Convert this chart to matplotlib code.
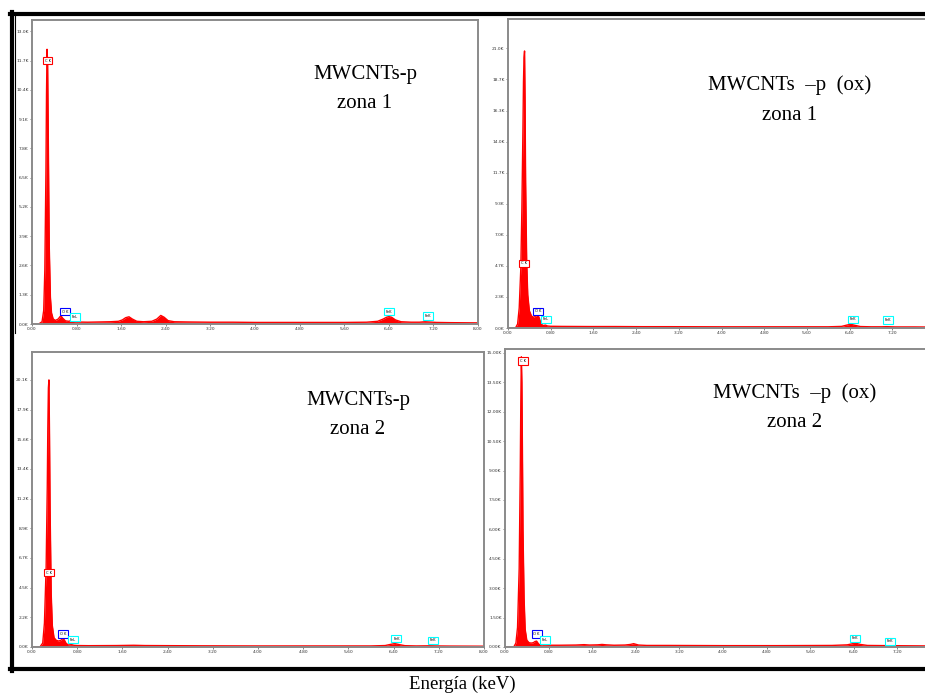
import matplotlib
matplotlib.use("Agg")
import matplotlib.pyplot as plt
from matplotlib.lines import Line2D

# Spectra: energy in keV, counts in thousands
energy_a = [0.00, 0.12, 0.18, 0.21, 0.23, 0.25, 0.26, 0.27, 0.28, 0.29, 0.30, 0.31, 0.33, 0.35, 0.38,
            0.42, 0.47, 0.50, 0.52, 0.55, 0.60, 0.66, 0.70, 0.74, 0.80, 1.00, 1.20, 1.40, 1.48, 1.55,
            1.62, 1.68, 1.74, 1.80, 1.88, 2.00, 2.15, 2.24, 2.31, 2.37, 2.44, 2.55, 2.80, 3.20, 3.60,
            4.00, 4.50, 5.00, 5.60, 6.00, 6.20, 6.30, 6.36, 6.40, 6.45, 6.52, 6.62, 6.80, 6.95, 7.05,
            7.12, 7.25, 7.50, 8.00]
counts_a = [0.00, 0.00, 0.10, 0.60, 2.40, 6.80, 10.2, 12.2, 11.6, 9.00, 6.00, 3.40, 1.20, 0.50, 0.22,
            0.16, 0.22, 0.32, 0.36, 0.26, 0.14, 0.12, 0.15, 0.11, 0.09, 0.08, 0.09, 0.10, 0.11, 0.12,
            0.18, 0.28, 0.32, 0.22, 0.12, 0.10, 0.12, 0.22, 0.38, 0.30, 0.15, 0.10, 0.09, 0.08, 0.08,
            0.07, 0.07, 0.07, 0.07, 0.08, 0.12, 0.22, 0.30, 0.33, 0.30, 0.18, 0.10, 0.08, 0.08, 0.10,
            0.09, 0.07, 0.06, 0.05]

energy_b = [0.00, 0.14, 0.18, 0.21, 0.24, 0.26, 0.28, 0.29, 0.30, 0.31, 0.32, 0.33, 0.35, 0.37, 0.40,
            0.44, 0.48, 0.52, 0.56, 0.59, 0.62, 0.66, 0.70, 0.74, 0.80, 1.00, 1.50, 2.00, 2.50, 3.00,
            4.00, 5.00, 6.00, 6.25, 6.35, 6.42, 6.50, 6.60, 6.80, 7.00, 7.10, 7.25, 7.60, 8.00]
counts_b = [0.00, 0.00, 0.30, 1.50, 4.50, 9.00, 15.0, 18.5, 20.3, 20.8, 17.0, 11.0, 5.00, 2.50, 1.30,
            0.90, 0.80, 0.90, 1.00, 0.70, 0.30, 0.18, 0.22, 0.15, 0.13, 0.12, 0.11, 0.11, 0.10, 0.10,
            0.09, 0.09, 0.09, 0.12, 0.22, 0.28, 0.20, 0.11, 0.09, 0.09, 0.10, 0.08, 0.08, 0.07]

energy_c = [0.00, 0.14, 0.19, 0.22, 0.25, 0.27, 0.28, 0.29, 0.30, 0.31, 0.32, 0.34, 0.36, 0.39, 0.43,
            0.47, 0.51, 0.54, 0.57, 0.60, 0.64, 0.70, 0.74, 0.80, 1.00, 1.50, 1.80, 2.00, 2.50, 3.00,
            4.00, 5.00, 6.00, 6.25, 6.35, 6.42, 6.50, 6.60, 6.80, 7.05, 7.15, 7.40, 8.00]
counts_c = [0.00, 0.00, 0.30, 1.80, 6.00, 12.0, 16.5, 19.5, 20.1, 16.0, 10.5, 4.00, 1.60, 0.70, 0.50,
            0.45, 0.50, 0.62, 0.55, 0.30, 0.15, 0.18, 0.13, 0.11, 0.10, 0.11, 0.13, 0.11, 0.10, 0.09,
            0.08, 0.08, 0.08, 0.11, 0.20, 0.26, 0.18, 0.10, 0.08, 0.09, 0.08, 0.07, 0.06]

energy_d = [0.00, 0.16, 0.20, 0.23, 0.26, 0.28, 0.29, 0.30, 0.31, 0.32, 0.33, 0.35, 0.37, 0.40, 0.44,
            0.48, 0.52, 0.55, 0.58, 0.62, 0.66, 0.70, 0.75, 0.80, 1.00, 1.30, 1.45, 1.55, 1.70, 1.78,
            1.86, 2.00, 2.20, 2.30, 2.36, 2.45, 2.60, 3.00, 4.00, 5.00, 6.00, 6.28, 6.38, 6.44, 6.52,
            6.65, 7.00, 7.50, 8.00]
counts_d = [0.00, 0.00, 0.20, 1.00, 4.00, 9.00, 12.5, 14.8, 13.5, 10.0, 6.00, 2.50, 0.90, 0.35, 0.22,
            0.20, 0.22, 0.28, 0.30, 0.14, 0.10, 0.12, 0.10, 0.09, 0.09, 0.10, 0.12, 0.10, 0.11, 0.13,
            0.11, 0.09, 0.10, 0.13, 0.17, 0.10, 0.08, 0.08, 0.07, 0.07, 0.08, 0.11, 0.17, 0.19, 0.13,
            0.08, 0.07, 0.06, 0.05]

# Peak markers: (label, energy, counts, box colour)
peaks_a = [("C K", 0.28, 11.7, "red"), ("O K", 0.59, 0.55, "blue"), ("FeL", 0.77, 0.30, "cyan"),
           ("FeK", 6.40, 0.55, "cyan"), ("FeK", 7.10, 0.35, "cyan")]
peaks_b = [("C K", 0.30, 4.85, "red"), ("O K", 0.56, 1.25, "blue"), ("FeL", 0.71, 0.65, "cyan"),
           ("FeK", 6.46, 0.65, "cyan"), ("FeK", 7.12, 0.58, "cyan")]
peaks_c = [("C K", 0.30, 5.60, "red"), ("O K", 0.55, 1.00, "blue"), ("FeL", 0.72, 0.55, "cyan"),
           ("FeK", 6.45, 0.63, "cyan"), ("FeK", 7.10, 0.50, "cyan")]
peaks_d = [("C K", 0.33, 14.6, "red"), ("O K", 0.58, 0.65, "blue"), ("FeL", 0.73, 0.35, "cyan"),
           ("FeK", 6.42, 0.44, "cyan"), ("FeK", 7.07, 0.29, "cyan")]

xticks = [0.00, 0.80, 1.60, 2.40, 3.20, 4.00, 4.80, 5.60, 6.40, 7.20, 8.00]
yticks_a = [0.0, 1.3, 2.6, 3.9, 5.2, 6.5, 7.8, 9.1, 10.4, 11.7, 13.0]
yticks_b = [0.0, 2.33, 4.67, 7.0, 9.33, 11.67, 14.0, 16.33, 18.67, 21.0]
yticks_c = [0.0, 2.23, 4.47, 6.7, 8.93, 11.17, 13.4, 15.63, 17.87, 20.1]
yticks_d = [0.0, 1.5, 3.0, 4.5, 6.0, 7.5, 9.0, 10.5, 12.0, 13.5, 15.0]

W, H = 925, 695
fig = plt.figure(figsize=(W / 100, H / 100), dpi=100)


def px_axes(x0, y0, x1, y1):
    # axes from pixel box (top-left origin)
    return fig.add_axes([x0 / W, 1 - y1 / H, (x1 - x0) / W, (y1 - y0) / H])


def draw_spectrum(ax, energy, counts, ymax, yticks, yfmt, peaks, last_xlabel=True):
    ax.fill_between(energy, counts, color="#ff0000", lw=0)
    ax.plot(energy, counts, color="#ff0000", lw=1.0)
    ax.set_xlim(0, 8.0)
    ax.set_ylim(0, ymax)
    ax.set_xticks(xticks)
    labels = [f"{t:.2f}" for t in xticks]
    if not last_xlabel:
        # the right end of these panels is cut off in the page
        labels[-1] = ""
    ax.set_xticklabels(labels)
    ax.set_yticks(yticks)
    ax.set_yticklabels([yfmt.format(t) for t in yticks])
    ax.tick_params(labelsize=3.2, length=1.5, width=0.5, pad=1, colors="#555555", labelcolor="#333333")
    for s in ax.spines.values():
        s.set_color("#8a8a8a")
        s.set_linewidth(1.4)
    for name, e, c, col in peaks:
        ax.text(e, c, name, fontsize=2.6, ha="center", va="center", color="black",
                bbox=dict(boxstyle="square,pad=0.5", fc="white", ec=col, lw=0.8))


ax_a = px_axes(32, 20, 478, 324)
draw_spectrum(ax_a, energy_a, counts_a, 13.5, yticks_a, "{:.1f}K", peaks_a)
ax_b = px_axes(508, 19, 935, 328)
draw_spectrum(ax_b, energy_b, counts_b, 23.2, yticks_b, "{:.1f}K", peaks_b, last_xlabel=False)
ax_c = px_axes(32, 352, 484, 647)
draw_spectrum(ax_c, energy_c, counts_c, 22.2, yticks_c, "{:.1f}K", peaks_c)
ax_d = px_axes(505, 349, 941, 647)
draw_spectrum(ax_d, energy_d, counts_d, 15.2, yticks_d, "{:.2f}K", peaks_d, last_xlabel=False)

serif = ["Liberation Serif", "DejaVu Serif"]
titles = [("MWCNTs-p", 365, 75), ("zona 1", 365, 103),
          ("MWCNTs  \u2013p  (ox)", 790, 85), ("zona 1", 790, 115),
          ("MWCNTs-p", 358, 401), ("zona 2", 358, 430),
          ("MWCNTs  \u2013p  (ox)", 795, 393), ("zona 2", 795, 422)]
for txt, x, y in titles:
    fig.text(x / W, 1 - y / H, txt, family=serif, fontsize=15, ha="center", va="center")
fig.text(462 / W, 1 - 684 / H, "Energía (keV)", family=serif, fontsize=13.5, ha="center", va="center")


# document frame around the panels
def frame_line(xs, ys, lw, color="black"):
    fig.add_artist(Line2D([x / W for x in xs], [1 - y / H for y in ys],
                          transform=fig.transFigure, color=color, lw=lw))


frame_line([11.5, 11.5], [12, 671], 3)
frame_line([10, 925], [13.5, 13.5], 3)
frame_line([10, 925], [669, 669], 3)
frame_line([15.5, 15.5], [15, 333], 0.8)

fig.savefig("out.png", dpi=100)
